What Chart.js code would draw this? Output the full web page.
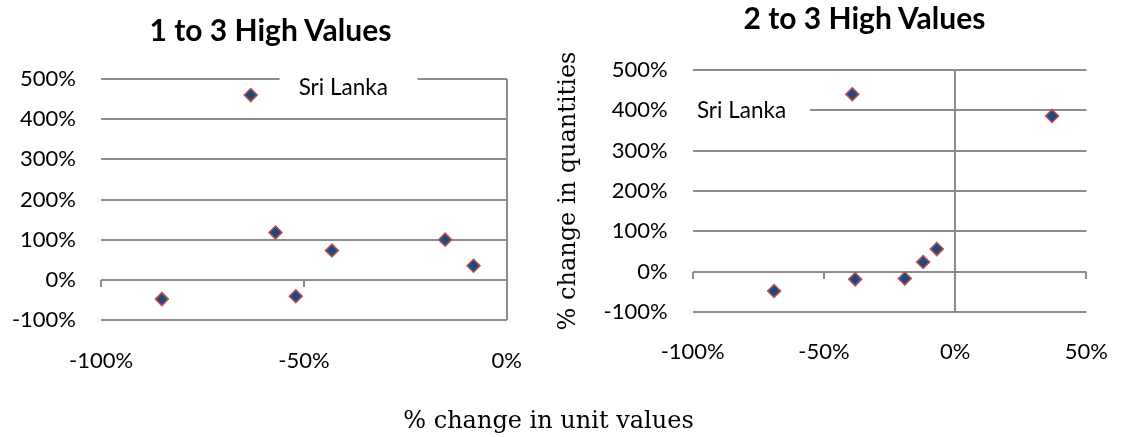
<!DOCTYPE html>
<html>
<head>
<meta charset="utf-8">
<script src="https://cdn.jsdelivr.net/npm/chart.js@4/dist/chart.umd.min.js"></script>
<style>
  body { margin: 0; background: #fff; }
  #wrap { position: relative; width: 1135px; height: 437px; overflow: hidden; }
  .box { position: absolute; top: 0; height: 437px; }
  .title { position: absolute; font-family: Lato, sans-serif; font-weight: bold; font-size: 30px; color: #000; text-align: center; line-height: 32px; }
  #xTitle { position: absolute; font-family: "DejaVu Serif", serif; font-size: 24px; color: #000; text-align: center; line-height: 30px; }
</style>
</head>
<body>
<div id="wrap">
  <div class="box" style="left:0;width:550px"><canvas id="leftChart"></canvas></div>
  <div class="box" style="left:550px;width:585px"><canvas id="rightChart"></canvas></div>
  <div class="title" style="left:0;width:541px;top:13px">1 to 3 High Values</div>
  <div class="title" style="left:600px;width:529px;top:1px">2 to 3 High Values</div>
  <div id="xTitle" style="left:0;width:1097px;top:405px">% change in unit values</div>
</div>
<script>
// 1 to 3 High Values
const leftUnit = [-85, -63.1, -57, -52, -43.1, -15.2, -8.2];
const leftQty = [-48, 460, 118, -41, 73, 100, 35];
// 2 to 3 High Values
const rightUnit = [-69, -39.2, -38.1, -19.2, -12.2, -7, 36.9];
const rightQty = [-48, 440, -19, -17, 24, 56, 386];

const qtyTicks = [-100, 0, 100, 200, 300, 400, 500];
const leftUnitRange = [-100, 0];
const rightUnitRange = [-100, 50];

const GRID = "#8c8c8c";
const TICK_FONT = { family: "Lato", size: 22 };

// excel style axes: axis line at x = 0, tick marks on the y = 0 line,
// plus the white "Sri Lanka" text box sitting on a gridline
const excelAxes = {
  id: "excelAxes",
  beforeDatasetsDraw(chart, args, opts) {
    const { ctx, chartArea: a } = chart;
    const x = chart.scales.x;
    const y = chart.scales.y;
    const x0 = Math.round(x.getPixelForValue(0));
    const y0 = Math.round(y.getPixelForValue(0));

    ctx.save();
    ctx.strokeStyle = GRID;
    ctx.lineWidth = 2;
    ctx.beginPath();
    ctx.moveTo(x0, a.top);
    ctx.lineTo(x0, a.bottom);
    x.ticks.forEach((t) => {
      const px = Math.round(x.getPixelForValue(t.value));
      ctx.moveTo(px, y0);
      ctx.lineTo(px, y0 + 7);
    });
    y.ticks.forEach((t) => {
      const py = Math.round(y.getPixelForValue(t.value));
      ctx.moveTo(x0 - 6, py);
      ctx.lineTo(x0, py);
    });
    ctx.stroke();

    const b = opts.label;
    if (b) {
      const bx1 = x.getPixelForValue(b.x1);
      const bx2 = x.getPixelForValue(b.x2);
      const by1 = y.getPixelForValue(b.y1);
      const by2 = y.getPixelForValue(b.y2);
      ctx.fillStyle = "#fff";
      ctx.fillRect(bx1, by1, bx2 - bx1, by2 - by1);
      ctx.fillStyle = "#000";
      ctx.font = "22.5px Lato";
      ctx.textBaseline = "middle";
      ctx.textAlign = "left";
      ctx.fillText(b.text, x.getPixelForValue(b.tx), y.getPixelForValue(b.ty));
    }
    ctx.restore();
  },
};

function makeChart(id, xs, ys, range, geo) {
  const ctx = document.getElementById(id).getContext("2d");
  return new Chart(ctx, {
    type: "scatter",
    data: {
      datasets: [
        {
          data: xs.map((v, i) => ({ x: v, y: ys[i] })),
          pointStyle: "rectRot",
          pointRadius: 6.5,
          pointHoverRadius: 6.5,
          backgroundColor: "#1F497D",
          borderColor: "#C0504D",
          borderWidth: 1.5,
        },
      ],
    },
    options: {
      responsive: true,
      maintainAspectRatio: false,
      animation: false,
      layout: { padding: { top: geo.top, right: geo.right, left: 0, bottom: 0 } },
      plugins: {
        legend: { display: false },
        tooltip: { enabled: false },
        excelAxes: { label: geo.label },
      },
      scales: {
        x: {
          type: "linear",
          min: range[0],
          max: range[1],
          afterFit: (s) => { s.height = geo.xHeight; },
          afterBuildTicks: (s) => {
            const out = [];
            for (let v = range[0]; v <= range[1]; v += 50) out.push({ value: v });
            s.ticks = out;
          },
          grid: { display: false, drawTicks: false },
          border: { display: false },
          ticks: {
            padding: geo.xPad,
            color: "#000",
            font: TICK_FONT,
            maxRotation: 0,
            autoSkip: false,
            callback: (v) => v + "%",
          },
        },
        y: {
          min: qtyTicks[0],
          max: qtyTicks[qtyTicks.length - 1],
          afterFit: (s) => { s.width = geo.yWidth; },
          afterBuildTicks: (s) => { s.ticks = qtyTicks.map((v) => ({ value: v })); },
          grid: { color: GRID, lineWidth: 2, drawTicks: false },
          border: { display: false },
          ticks: {
            padding: 25,
            color: "#000",
            font: TICK_FONT,
            callback: (v) => v + "%",
          },
          title: geo.yTitle || { display: false },
        },
      },
    },
    plugins: [excelAxes],
  });
}

makeChart("leftChart", leftUnit, leftQty, leftUnitRange, {
  top: 79,
  right: 30,
  yWidth: 101,
  xHeight: 117,
  xPad: 28,
  label: { text: "Sri Lanka", x1: -56, x2: -22, y1: 524, y2: 439, tx: -51.3, ty: 478 },
});

makeChart("rightChart", rightUnit, rightQty, rightUnitRange, {
  top: 70,
  right: 28.5,
  yWidth: 142.7,
  xHeight: 125,
  xPad: 27,
  label: { text: "Sri Lanka", x1: -100, x2: -55.3, y1: 425, y2: 376, tx: -98.4, ty: 400 },
  yTitle: {
    display: true,
    text: "% change in quantities",
    color: "#000",
    font: { family: "DejaVu Serif", size: 24, lineHeight: 1.2 },
    padding: { top: 4, bottom: 0 },
  },
});
</script>
</body>
</html>
